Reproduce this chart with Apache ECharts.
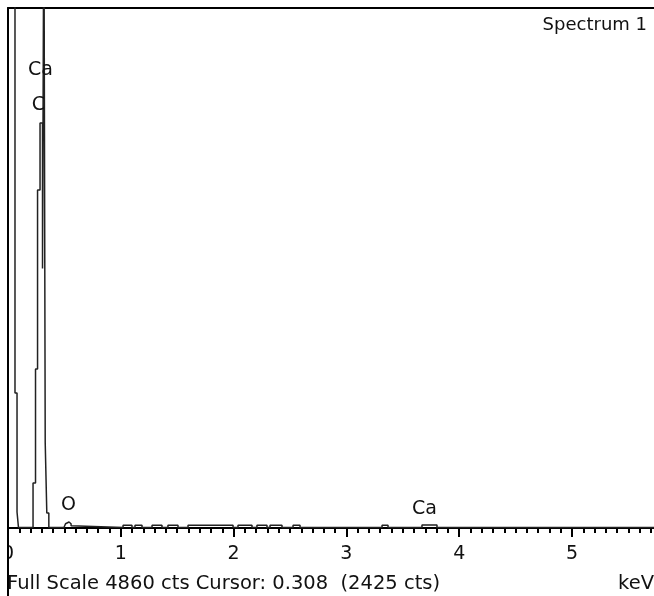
<!DOCTYPE html>
<html><head><meta charset="utf-8">
<script src="https://cdn.jsdelivr.net/npm/echarts@6/dist/echarts.min.js"></script>
<style>html,body{margin:0;padding:0;background:#fff}#c{width:654px;height:596px}</style>
</head><body><div id="c"></div>
<script>
// Spectrum: step breakpoints (keV) and the counts held from each one onward
const energyKeV = [0, 0.062, 0.080, 0.093, 0.222, 0.244, 0.262, 0.284, 0.306, 0.318, 0.330, 0.344, 0.362,
  0.496, 0.510, 0.523, 0.541, 0.559, 0.575,
  1.020, 1.099, 1.126, 1.188, 1.277, 1.365, 1.418, 1.507, 1.596, 1.995, 2.039, 2.163, 2.207, 2.296,
  2.323, 2.429, 2.527, 2.589, 3.316, 3.369, 3.670, 3.803, 6.0];
const countsCts = [6000, 1262, 150, 4, 421, 1486, 3159, 3785, 2425, 6000, 794, 140, 4,
  20, 40, 56, 40, 20, 4,
  25, 4, 25, 4, 25, 4, 25, 4, 25, 4, 25, 4, 25, 4,
  25, 4, 25, 4, 25, 4, 28, 4, 4];
// Element labels
const peakLabels = ['Ca', 'C', 'O', 'Ca'];
const peakLabelKeV = [0.288, 0.270, 0.536, 3.692];
const peakLabelCts = [4281, 3953, 215, 173];
// Axis / texts
const fullScaleCts = 4860;
const xMinKeV = 0, xMaxKeV = 6, xStepKeV = 1;
const spectrumTitle = 'Spectrum 1';
const footerText = 'Full Scale 4860 cts Cursor: 0.308  (2425 cts)';
const unitText = 'keV';

const FONT = 'DejaVu Sans';
const chart = echarts.init(document.getElementById('c'));
chart.setOption({
  animation: false,
  backgroundColor: '#fff',
  grid: {left: 8, top: 8, width: 676.8, height: 520, containLabel: false, outerBoundsMode: 'none'},
  xAxis: [{
    type: 'value', min: xMinKeV, max: xMaxKeV, interval: xStepKeV, position: 'bottom',
    axisLine: {show: true, onZero: false, lineStyle: {color: '#000', width: 2}},
    axisTick: {show: true, length: 9, lineStyle: {color: '#000', width: 2}},
    minorTick: {show: true, splitNumber: 10, length: 5, lineStyle: {color: '#000', width: 2}},
    splitLine: {show: false}, minorSplitLine: {show: false},
    axisLabel: {margin: 17, fontFamily: FONT, fontSize: 19, color: '#111', showMaxLabel: false}
  }, {
    type: 'value', min: xMinKeV, max: xMaxKeV, position: 'top',
    axisLine: {show: true, onZero: false, lineStyle: {color: '#000', width: 2}},
    axisTick: {show: false}, axisLabel: {show: false}, splitLine: {show: false}
  }],
  yAxis: {
    type: 'value', min: 0, max: fullScaleCts,
    axisLine: {show: true, onZero: false, lineStyle: {color: '#000', width: 2}},
    axisTick: {show: false}, axisLabel: {show: false}, splitLine: {show: false}
  },
  series: [{
    type: 'line', step: 'end', symbol: 'none', clip: true, z: 2,
    data: energyKeV.map((e, i) => [e, countsCts[i]]),
    lineStyle: {color: '#222', width: 1.5}
  }, {
    type: 'scatter', silent: true, symbolSize: 1,
    itemStyle: {color: 'rgba(0,0,0,0)', opacity: 1},
    data: peakLabelKeV.map((e, i) => [e, peakLabelCts[i]]),
    label: {show: true, position: 'inside', formatter: p => peakLabels[p.dataIndex],
      fontFamily: FONT, fontSize: 19, color: '#111', opacity: 1}
  }],
  graphic: [
    {type: 'rect', z: 100, shape: {x: 0, y: 538, width: 8, height: 36}, style: {fill: '#fff'}},
    {type: 'line', z: 101, shape: {x1: 8, y1: 527, x2: 8, y2: 596}, style: {stroke: '#000', lineWidth: 2}},
    {type: 'text', z: 101, x: 647, y: 25, style: {text: spectrumTitle, font: '18px "DejaVu Sans"', fill: '#111',
      align: 'right', textAlign: 'right', verticalAlign: 'middle', textVerticalAlign: 'middle'}},
    {type: 'text', z: 101, x: 7, y: 584, style: {text: footerText, font: '19.5px "DejaVu Sans"', fill: '#111',
      align: 'left', textAlign: 'left', verticalAlign: 'middle', textVerticalAlign: 'middle'}},
    {type: 'text', z: 101, x: 654, y: 584, style: {text: unitText, font: '19.5px "DejaVu Sans"', fill: '#111',
      align: 'right', textAlign: 'right', verticalAlign: 'middle', textVerticalAlign: 'middle'}}
  ]
});
</script></body></html>
